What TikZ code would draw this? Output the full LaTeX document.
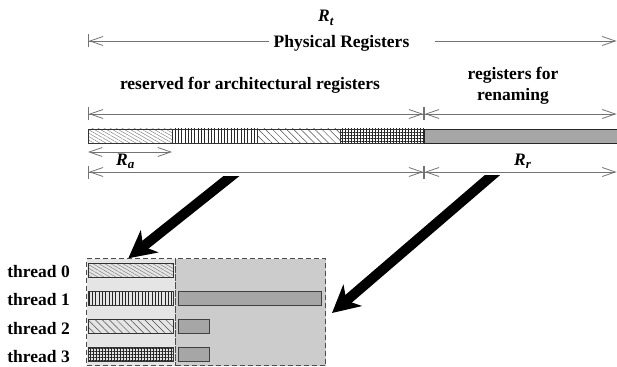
\documentclass[tikz,border=0pt]{standalone}
\usepackage{fontspec}
\setmainfont{Liberation Serif}
\usetikzlibrary{arrows.meta,patterns.meta}
\tikzset{
  lbl/.style={font=\fontsize{17.5}{21}\selectfont\bfseries, inner sep=0pt},
  dim/.style={draw=black!55, line width=0.8pt},
  dimboth/.style={dim, arrows={Bar[width=13pt]Straight Barb[length=13pt,width=9pt]-Straight Barb[length=13pt,width=9pt]Bar[width=13pt]}},
  dimleft/.style={dim, arrows={Bar[width=13pt]Straight Barb[length=13pt,width=9pt]-}},
  dimright/.style={dim, arrows={-Straight Barb[length=13pt,width=9pt]}},
  dimstart/.style={dim, arrows={Bar[width=13pt]Straight Barb[length=13pt,width=9pt]-Straight Barb[length=13pt,width=9pt]}},
  dimplain/.style={dim, arrows={Straight Barb[length=13pt,width=9pt]-Straight Barb[length=13pt,width=9pt]}},
  regbar/.style={draw=black!80, line width=0.6pt},
  patA/.style={regbar, pattern={Lines[angle=-30,distance=3pt,line width=0.4pt]}, pattern color=black!55},
  patB/.style={regbar, pattern={Lines[angle=90,distance=3.3pt,line width=0.5pt]}, pattern color=black!85},
  patC/.style={regbar, pattern={Lines[angle=-45,distance=5pt,line width=0.5pt]}, pattern color=black!70},
  patD/.style={regbar, pattern={Hatch[angle=0,distance=3pt,line width=0.4pt]}, pattern color=black!85},
  greybar/.style={draw=black!75, fill=black!35, line width=0.6pt},
  dbox/.style={draw=black!70, dash pattern=on 5pt off 3pt, line width=1.3pt},
  bigarrow/.style={line width=10pt, -{Stealth[length=27pt,width=28pt,inset=8pt]}},
}
\begin{document}
\begin{tikzpicture}[x=1pt,y=-1pt]
\useasboundingbox (0,0) rectangle (617,366);

% titles
\node[lbl, anchor=base west] (Rt) at (318,22) {\textit{R}\raisebox{-4pt}{\fontsize{13}{13}\selectfont\textit{t}}};
\node[lbl, anchor=base] (phys) at (341.5,47.5) {Physical Registers};
\node[lbl, anchor=base] (resv) at (250,90) {reserved for architectural registers};
\node[lbl, anchor=base] (ren1) at (513,80) {registers for};
\node[lbl, anchor=base] (ren2) at (513,101) {renaming};
\node[lbl, anchor=base west] (Ra) at (116,165) {\textit{R}\raisebox{-3pt}{\fontsize{13}{13}\selectfont\textit{a}}};
\node[lbl, anchor=base west] (Rr) at (514,165) {\textit{R}\raisebox{-3pt}{\fontsize{13}{13}\selectfont\textit{r}}};

% dimension lines
\coordinate (t0) at (88,41);
\coordinate (t1) at (269,41);
\coordinate (t2) at (435,41);
\coordinate (t3) at (616.5,41);
\draw[dimleft] (t0) -- (t1);
\draw[dimright] (t2) -- (t3);

\coordinate (a0) at (88,114);
\coordinate (a1) at (424,114);
\coordinate (a2) at (616.5,114);
\draw[dimboth] (a0) -- (a1);
\draw[dimstart] (a1) -- (a2);

\coordinate (r0) at (88,152);
\coordinate (r1) at (172,152);
\draw[dimplain] (r0) -- (r1);

\coordinate (b0) at (88,172);
\coordinate (b1) at (424,172);
\coordinate (b2) at (616.5,172);
\draw[dimboth] (b0) -- (b1);
\draw[dimstart] (b1) -- (b2);

% physical register bar
\draw[patA] (88,129) rectangle (172.5,143);
\draw[patB] (172.5,129) rectangle (257,143);
\draw[patC] (257,129) rectangle (340.5,143);
\draw[patD] (340.5,129) rectangle (424,143);
\draw[greybar, draw=black!85] (424,129) rectangle (617.5,143);

% dashed boxes
\node[dbox, fill=black!10, minimum width=89pt, minimum height=107pt, anchor=north west, inner sep=0pt] (archbox) at (86,258) {};
\node[dbox, fill=black!20, minimum width=150pt, minimum height=107pt, anchor=north west, inner sep=0pt] (renbox) at (175,258) {};

% thread bars
\draw[patA] (88,263) rectangle (173,277);
\draw[patB] (88,291) rectangle (173,305);
\draw[patC] (88,319) rectangle (173,333);
\draw[patD] (88,347) rectangle (173,361);
\draw[greybar] (178,291) rectangle (321,305);
\draw[greybar] (178,319) rectangle (209,333);
\draw[greybar] (178,347) rectangle (209,361);

% thread labels
\node[lbl, anchor=base east] (th0) at (70,277) {thread 0};
\node[lbl, anchor=base east] (th1) at (70,305.5) {thread 1};
\node[lbl, anchor=base east] (th2) at (70,334) {thread 2};
\node[lbl, anchor=base east] (th3) at (70,362) {thread 3};

% big arrows
\coordinate (tailL) at (239.3,169.8);
\coordinate (headL) at (128.3,258.3);
\coordinate (tailR) at (500.1,168.5);
\coordinate (headR) at (332,313);
\begin{scope}
\clip (0,176) rectangle (617,366);
\draw[bigarrow] (tailL) -- (headL);
\end{scope}
\begin{scope}
\clip (0,175) rectangle (617,366);
\draw[bigarrow] (tailR) -- (headR);
\end{scope}
\end{tikzpicture}
\end{document}
